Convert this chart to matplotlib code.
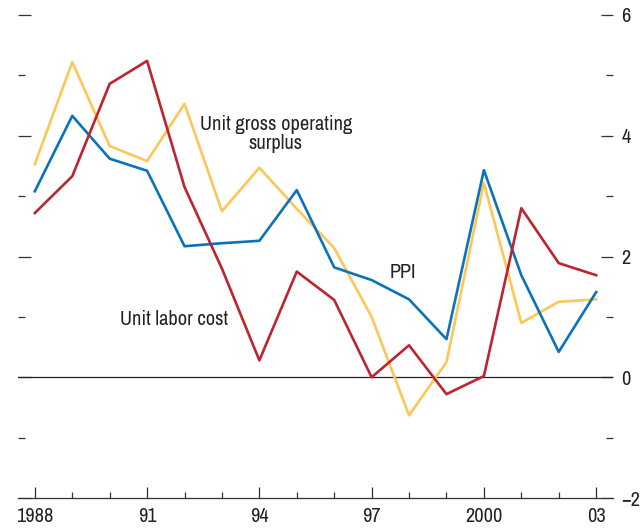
import matplotlib
matplotlib.use("Agg")
import matplotlib.pyplot as plt
from matplotlib.ticker import MultipleLocator

years = list(range(1988, 2004))
surplus = [3.53, 5.22, 3.83, 3.58, 4.53, 2.75, 3.47, 2.79, 2.14, 1.0, -0.63, 0.25, 3.22, 0.9, 1.25, 1.29]
ppi = [3.08, 4.33, 3.62, 3.42, 2.17, 2.22, 2.26, 3.10, 1.82, 1.61, 1.29, 0.63, 3.43, 1.69, 0.42, 1.41]
labor = [2.72, 3.33, 4.86, 5.24, 3.15, 1.80, 0.28, 1.75, 1.28, 0.0, 0.53, -0.28, 0.02, 2.80, 1.89, 1.69]
xtick_pos = [1988, 1991, 1994, 1997, 2000, 2003]
xtick_labels = ["1988", "91", "94", "97", "2000", "03"]
ytick_pos = [-2, 0, 2, 4, 6]

FONT = ["Archivo Narrow", "PT Sans Narrow", "Roboto Condensed", "DejaVu Sans"]
plt.rcParams['font.family'] = FONT
FS = 14.7

fig = plt.figure(figsize=(6.41, 5.29), dpi=100)
ax = fig.add_axes([18/641, 31/529, (613-18)/641, (498-15)/529])

c_yellow = "#FDC757"
c_blue = "#0A73BA"
c_red = "#BE2430"
lw = 1.9
ax.plot(years, surplus, color=c_yellow, lw=lw, zorder=3)
ax.plot(years, ppi, color=c_blue, lw=lw, zorder=4)
ax.plot(years, labor, color=c_red, lw=lw, zorder=5)

ax.axhline(0, color="#222222", lw=0.9, zorder=2)

ax.set_xlim(1987.55, 2003.45)
ax.set_ylim(-2, 6)

for s in ["top", "left", "right"]:
    ax.spines[s].set_visible(False)
ax.spines["bottom"].set_color("#333333")
ax.spines["bottom"].set_linewidth(0.9)

ax.set_xticks(xtick_pos)
ax.set_xticklabels(xtick_labels)
ax.xaxis.set_minor_locator(MultipleLocator(1))
ax.tick_params(axis="x", which="major", direction="in", length=8, width=0.9, color="#333333",
               labelsize=FS, pad=6.5, labelcolor="#222222")
ax.tick_params(axis="x", which="minor", direction="in", length=4.5, width=0.9, color="#333333")

ax.yaxis.set_ticks_position("both")
ax.set_yticks(ytick_pos)
ax.yaxis.set_minor_locator(MultipleLocator(1))
ax.tick_params(axis="y", which="major", direction="in", length=9, width=0.9, color="#333333",
               left=True, right=True, labelleft=False, labelright=True, labelsize=FS, pad=6,
               labelcolor="#222222")
ax.tick_params(axis="y", which="minor", direction="in", length=5, width=0.9, color="#333333",
               left=True, right=True)

ax.text(1994.44, 4.03, "Unit gross operating\nsurplus", ha="center", va="center", fontsize=FS,
        color="#222222", linespacing=1.05)
ax.text(1997.84, 1.74, "PPI", ha="center", va="center", fontsize=FS, color="#222222")
ax.text(1991.73, 0.96, "Unit labor cost", ha="center", va="center", fontsize=FS, color="#222222")

fig.savefig("out.png", dpi=100)
